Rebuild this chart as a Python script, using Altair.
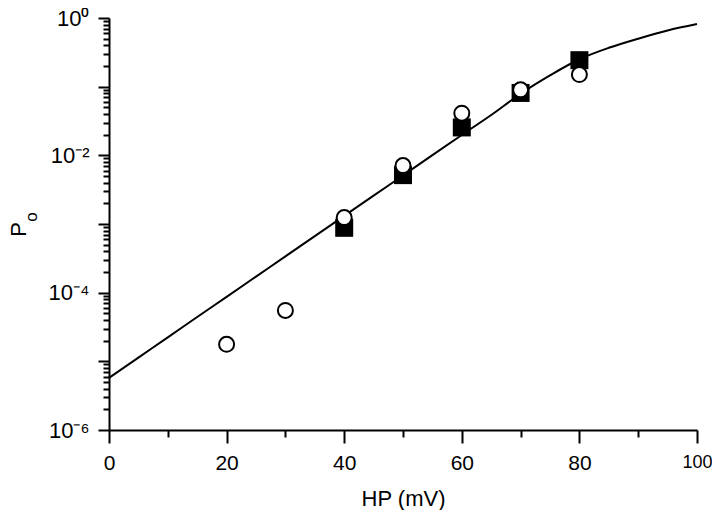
import altair as alt
import pandas as pd

# Fitted curve (HP in mV, open probability)
curve_hp = [0, 5, 10, 15, 20, 25, 30, 35, 40, 45, 50, 55, 60, 65, 70, 75, 80, 85, 90, 95, 100]
curve_po = [5.75e-6, 1.135e-5, 2.23e-5, 4.42e-5, 8.69e-5, 1.714e-4, 3.37e-4, 6.67e-4,
            1.312e-3, 2.59e-3, 5.09e-3, 1.007e-2, 1.98e-2, 3.87e-2, 7.89e-2, 0.146,
            0.251, 0.368, 0.50, 0.658, 0.815]

# Filled squares
sq_hp = [40, 50, 60, 70, 80]
sq_po = [8.8e-4, 5.15e-3, 0.0255, 0.081, 0.243]

# Open circles
ci_hp = [20, 30, 40, 50, 60, 70, 80]
ci_po = [1.77e-5, 5.52e-5, 1.24e-3, 7.1e-3, 0.0411, 0.090, 0.150]

x_ticks = list(range(0, 101, 10))
y_ticks = [m * 10.0 ** e for e in range(-6, 0) for m in range(1, 10)] + [1.0]

FONT = "Liberation Sans, Arial, Helvetica, sans-serif"

curve_df = pd.DataFrame({"hp": curve_hp, "po": curve_po})
sq_df = pd.DataFrame({"hp": sq_hp, "po": sq_po})
ci_df = pd.DataFrame({"hp": ci_hp, "po": ci_po})

E = "log(datum.value)/LN10"
y_major = f"abs({E} - round({E})) < 0.001"
y_label = (f"abs({E}) < 0.001 ? '10\u2070' : abs({E}+2) < 0.001 ? '10\u207b\u00b2' : "
           f"abs({E}+4) < 0.001 ? '10\u207b\u2074' : abs({E}+6) < 0.001 ? '10\u207b\u2076' : ''")

x_scale = alt.Scale(domain=[0, 100], nice=False, zero=False)
y_scale = alt.Scale(type="log", domain=[1e-6, 1], nice=False)

x_enc = alt.X(
    "hp:Q", scale=x_scale,
    axis=alt.Axis(
        values=x_ticks, title="HP (mV)",
        labelExpr="datum.value % 20 == 0 ? datum.label : ''",
        tickSize={"condition": {"test": "datum.value % 20 == 0", "value": 13}, "value": 7},
        labelFontSize={"condition": {"test": "datum.value == 100", "value": 18}, "value": 21},
        labelPadding={"condition": {"test": "datum.value == 100", "value": 10}, "value": 9},
        titlePadding=15, labelFlush=False, labelOverlap=False,
        grid=False,
    ),
)
y_enc = alt.Y(
    "po:Q", scale=y_scale,
    axis=alt.Axis(
        values=y_ticks, title="P", titleY=211, titleFontSize=22,
        labelExpr=y_label,
        tickSize={"condition": {"test": y_major, "value": 11}, "value": 6},
        labelPadding=9, titlePadding=18, labelFlush=False, labelOverlap=False,
        grid=False,
    ),
)

curve = alt.Chart(curve_df).mark_line(
    color="black", strokeWidth=2, interpolate="monotone"
).encode(x=x_enc, y=y_enc)

squares = alt.Chart(sq_df).mark_point(
    shape="square", filled=True, color="black", size=324, opacity=1
).encode(x="hp:Q", y="po:Q")

circles = alt.Chart(ci_df).mark_point(
    shape="circle", filled=True, fill="white", stroke="black", strokeWidth=2,
    size=225, opacity=1
).encode(x="hp:Q", y="po:Q")

sub_o = alt.Chart(pd.DataFrame({"t": ["o"]})).mark_text(
    angle=270, fontSize=17, font=FONT, color="black", align="center", baseline="middle"
).encode(x=alt.value(-77), y=alt.value(199), text="t:N")

chart = alt.layer(curve, squares, circles, sub_o).properties(
    width=588, height=412,
    autosize=alt.AutoSizeParams(type="none"),
    padding={"left": 101, "top": 10, "right": 15, "bottom": 80},
).configure_view(stroke=None).configure_axis(
    domainColor="black", domainWidth=2, tickColor="black", tickWidth=2,
    labelColor="black", labelFont=FONT, labelFontSize=22,
    titleColor="black", titleFont=FONT, titleFontSize=22, titleFontWeight="normal",
)

chart.save("out.html", embed_options={"renderer": "svg", "actions": False})
